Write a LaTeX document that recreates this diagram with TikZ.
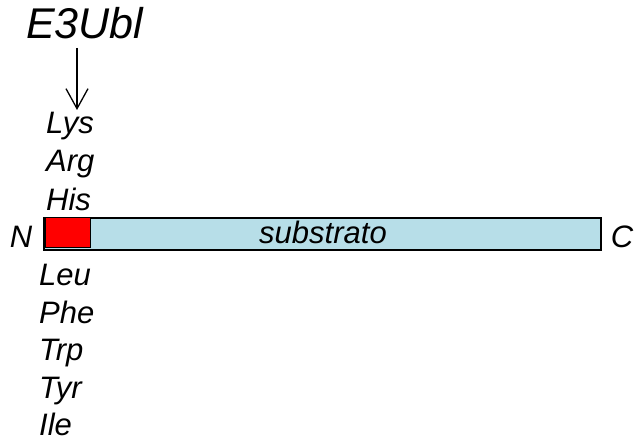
\documentclass[tikz,border=0pt]{standalone}
\usepackage{fontspec}
\setmainfont{Liberation Sans}
\usetikzlibrary{arrows.meta}
\definecolor{subcyan}{RGB}{183,222,232}
\definecolor{nred}{RGB}{255,0,0}
\begin{document}
\begin{tikzpicture}[x=1pt,y=-1pt,
  lbl/.style={font=\fontsize{31}{31}\selectfont\itshape, inner sep=0pt, anchor=base west},
  endlbl/.style={font=\fontsize{31}{31}\selectfont\itshape, inner sep=0pt, anchor=base},
  big/.style={font=\fontsize{43}{43}\selectfont\itshape, inner sep=0pt, anchor=base west}]
\useasboundingbox (0,0) rectangle (634,441);
\fill[white] (0,0) rectangle (634,441);
% substrate bar
\draw[fill=subcyan, line width=1.5pt] (44,218) rectangle (601,250);
\draw[fill=nred, line width=1pt] (45,217.5) rectangle (90,247);
\node[endlbl] (sub) at (323,243.5) {substrato};
\node[endlbl] (N) at (21,247) {N};
\node[endlbl] (C) at (622,247) {C};
% E3
\node[big] (e3) at (26,39) {E3Ubl};
\coordinate (arrs) at (77,48);
\node[lbl] (lys) at (46,133) {Lys};
\node[lbl] (arg) at (46,171.5) {Arg};
\node[lbl] (his) at (46,210) {His};
\coordinate (arre) at (77,110);
\draw[line width=1.3pt, -{Straight Barb[length=20pt,width=22pt,line width=1.3pt]}] (arrs) -- (arre);
% lower
\node[lbl] (leu) at (39,285) {Leu};
\node[lbl] (phe) at (39,323) {Phe};
\node[lbl] (trp) at (39,360) {Trp};
\node[lbl] (tyr) at (39,398) {Tyr};
\node[lbl] (ile) at (39,435) {Ile};
\end{tikzpicture}
\end{document}
